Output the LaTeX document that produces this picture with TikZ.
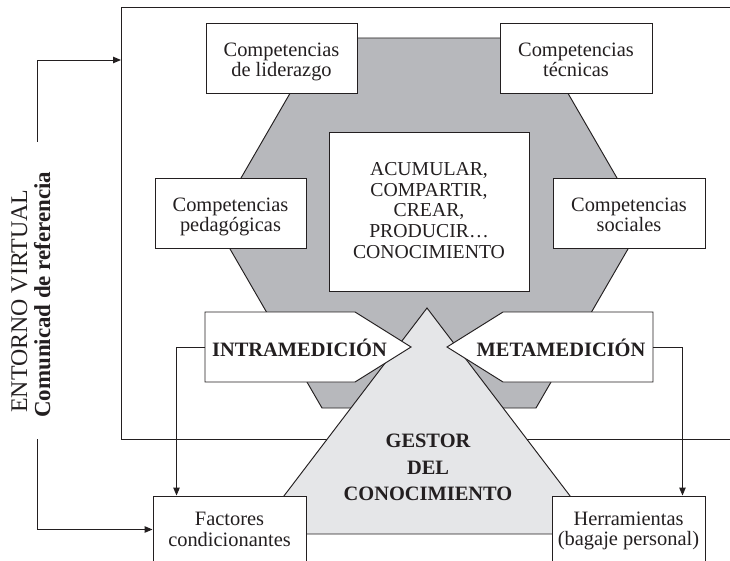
\documentclass[tikz,border=0pt]{standalone}
\usepackage{fontspec}
\setmainfont{Liberation Serif}
\usetikzlibrary{arrows.meta}
\definecolor{hexgray}{RGB}{183,184,188}
\definecolor{trigray}{RGB}{229,230,232}
\definecolor{ink}{RGB}{35,31,32}
\begin{document}
\begin{tikzpicture}[x=1bp,y=-1bp,
  outline/.style={draw=ink, line width=0.95bp},
  boxnode/.style={outline, fill=white, inner sep=0pt, minimum width=152bp, minimum height=70bp},
  txt/.style={align=center, inner sep=0pt, text=ink, font=\fontsize{20.5}{20}\selectfont},
  captxt/.style={align=center, inner sep=0pt, text=ink, font=\fontsize{19.8}{21}\selectfont},
  boldtxt/.style={align=center, inner sep=0pt, text=ink, font=\bfseries\fontsize{20.5}{26.5}\selectfont},
  conn/.style={draw=ink, line width=0.95bp, -{Triangle[length=8bp,width=6.5bp]}}]
\useasboundingbox (0,0) rectangle (730,561);
\clip (0,0) rectangle (730,561);

% outer frame (environment)
\draw[outline] (745,7) -- (121,7) -- (121,439) -- (745,439);

% hexagon
\filldraw[outline, fill=hexgray] (643,223) -- (536,38) -- (322,38) -- (215,223) -- (322,408) -- (536,408) -- cycle;

% central box
\node[outline, fill=white, inner sep=0pt, minimum width=200bp, minimum height=159bp] (core) at (429,211.5) {};

% competence boxes
\node[boxnode, minimum width=151bp] (lid) at (281.5,58) {};
\node[boxnode] (tec) at (576,58) {};
\node[boxnode, minimum width=151bp] (ped) at (230.5,213) {};
\node[boxnode] (soc) at (629,213) {};

% triangle (gestor)
\filldraw[outline, fill=trigray] (427,308) -- (599,534) -- (255,534) -- cycle;

% arrow shapes
\filldraw[outline, fill=white] (205,312) -- (355,312) -- (411,347) -- (355,382) -- (205,382) -- cycle;
\filldraw[outline, fill=white] (653,312) -- (503,312) -- (447,347) -- (503,382) -- (653,382) -- cycle;
\coordinate (intraw) at (205,347);
\coordinate (metae) at (653,347);

% bottom boxes (cut by the page edge)
\node[boxnode, minimum width=153bp, minimum height=67bp] (fac) at (229.5,529.5) {};
\node[boxnode, minimum width=153bp, minimum height=67bp] (her) at (628.5,529.5) {};

% texts
\node[txt] (lidt) at (281.5,62.2) {Competencias\\de liderazgo};
\node[txt] (tect) at (576,60) {Competencias\\técnicas};
\node[txt] (pedt) at (230.5,217.2) {Competencias\\pedagógicas};
\node[txt] (soct) at (629,215) {Competencias\\sociales};
\node[captxt] (coret) at (429,210.5) {ACUMULAR,\\COMPARTIR,\\CREAR,\\PRODUCIR…\\CONOCIMIENTO};
\node[boldtxt] (gest) at (428,467.7) {GESTOR\\DEL\\CONOCIMIENTO};
\node[boldtxt, anchor=base] (intra) at (299.5,356) {INTRAMEDICIÓN};
\node[boldtxt, anchor=base] (meta) at (561,356) {METAMEDICIÓN};
\node[txt, font=\fontsize{20.5}{20.5}\selectfont] (fact) at (229.5,529.5) {Factores\\condicionantes};
\node[txt, font=\fontsize{20.5}{20.5}\selectfont] (hert) at (628.5,530.7) {Herramientas\\(bagaje personal)};

% rotated side labels
\node[inner sep=0pt, text=ink, font=\fontsize{24}{24}\selectfont, rotate=90, anchor=base west] (ent) at (27,413) {ENTORNO VIRTUAL};
\node[inner sep=0pt, text=ink, font=\bfseries\fontsize{23}{23}\selectfont, rotate=90, anchor=base west] (com) at (50,418) {Comunicad de referencia};

% connectors
\coordinate (envtop) at (37,142);
\coordinate (envbot) at (37,439);
\coordinate (envin) at (121,60);
\draw[conn] (envtop) |- (envin);
\draw[conn] (envbot) |- (fac.west);
\draw[conn] (intraw) -| ([xshift=24bp]fac.north west);
\draw[conn] (metae) -| ([xshift=-23bp]her.north east);
\end{tikzpicture}
\end{document}
